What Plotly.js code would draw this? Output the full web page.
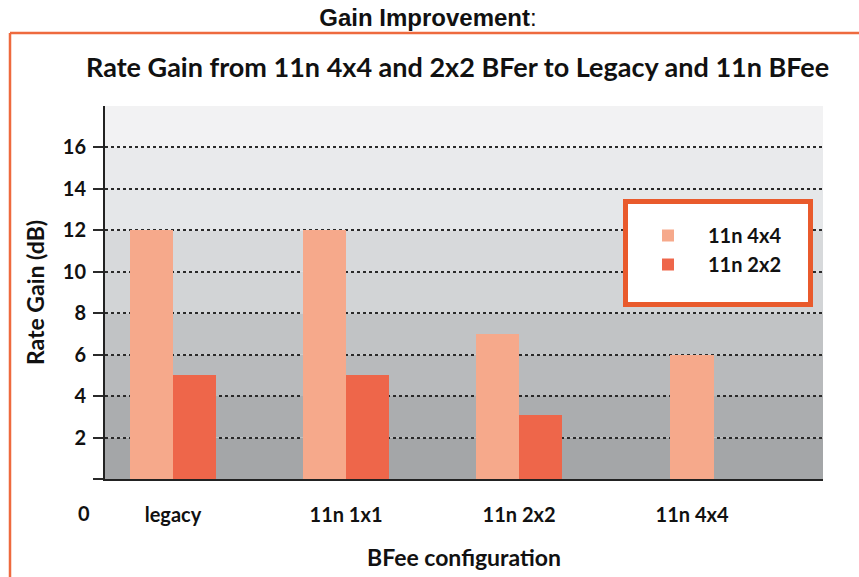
<!DOCTYPE html>
<html>
<head>
<meta charset="utf-8">
<script src="https://cdn.plot.ly/plotly-3.0.1.min.js"></script>
<style>
  html, body { margin: 0; padding: 0; background: #ffffff; }
  #chart { width: 859px; height: 577px; }
</style>
</head>
<body>
<div id="chart"></div>
<script>
// ---- data ----
const categories = ["legacy", "11n 1x1", "11n 2x2", "11n 4x4"];
const series4x4 = [12, 12, 7, 6];
const series2x2 = [5, 5, 3.1, null];
const seriesNames = ["11n 4x4", "11n 2x2"];
const yTickVals = [0, 2, 4, 6, 8, 10, 12, 14, 16];
const yTickText = ["", "2", "4", "6", "8", "10", "12", "14", "16"];
const bandEdges = [0, 2, 4, 6, 8, 10, 12, 14, 16, 18];
const bandColors = ["#a4a6a8", "#abadaf", "#b8babc", "#c1c3c5", "#d2d4d6", "#d7d9db", "#e5e7e9", "#e9eaec", "#f2f2f3"];

// ---- layout geometry (pixels) ----
const W = 859, H = 577;
const L = 105, R = 823, T = 106, B = 479;
const pw = R - L, ph = B - T;
const px = x => (x - L) / pw;
const py = y => (B - y) / ph;

const font = "Lato, 'Open Sans', sans-serif";
const light = "#f6a98b";
const dark = "#ee664a";
const frame = "#ee6a3e";

const barW = 0.25;
const trace1 = {
  type: "bar", name: seriesNames[0], x: categories, y: series4x4,
  width: barW,
  offset: categories.map((c, i) => series2x2[i] == null ? -barW / 2 : -barW),
  marker: { color: light }, legendgroup: "a"
};
const trace2 = {
  type: "bar", name: seriesNames[1], x: categories, y: series2x2,
  width: barW, offset: 0,
  marker: { color: dark }, legendgroup: "b"
};

const shapes = bandEdges.slice(0, -1).map((e, i) => ({
  type: "rect", xref: "paper", yref: "y", x0: 0, x1: 1, y0: e, y1: bandEdges[i + 1],
  fillcolor: bandColors[i], line: { width: 0 }, layer: "below"
}));
// orange frame around chart
shapes.push({ type: "line", xref: "paper", yref: "paper", x0: px(10), x1: px(W + 5), y0: py(33), y1: py(33), line: { color: frame, width: 2.5 } });
shapes.push({ type: "line", xref: "paper", yref: "paper", x0: px(10), x1: px(10), y0: py(33), y1: py(H + 5), line: { color: frame, width: 2.5 } });
// legend box
shapes.push({ type: "rect", xref: "paper", yref: "paper", x0: px(625.5), x1: px(810.5), y0: py(201.5), y1: py(304.5),
  fillcolor: "#ffffff", line: { color: "#e95a2c", width: 5 }, layer: "above" });

const layout = {
  width: W, height: H,
  margin: { l: L, r: W - R, t: T, b: H - B, pad: 0 },
  paper_bgcolor: "#ffffff",
  plot_bgcolor: "rgba(0,0,0,0)",
  title: {
    text: "<b>Gain Improvement</b>:",
    font: { family: "'Liberation Sans', Arial, sans-serif", size: 24, color: "#111" },
    x: 428 / W, xanchor: "center", xref: "container",
    y: 1 - 18 / H, yref: "container", yanchor: "middle"
  },
  barmode: "overlay",
  bargap: 0,
  xaxis: {
    type: "category",
    range: [-0.393, 3.757],
    showline: true, linecolor: "#222", linewidth: 2,
    showgrid: false, ticks: "",
    ticklabelstandoff: 17,
    tickfont: { family: font, size: 20, color: "#111", weight: 700 },
    title: { text: "<b>BFee configuration</b>", font: { family: font, size: 23, color: "#111" }, standoff: 25 },
    fixedrange: true
  },
  yaxis: {
    range: [0, 18],
    tickvals: yTickVals, ticktext: yTickText,
    showline: true, linecolor: "#222", linewidth: 2,
    showgrid: true, gridcolor: "#2a2a2a", gridwidth: 2, griddash: "3px,3px",
    zeroline: false,
    ticks: "outside", ticklen: 10, tickwidth: 2, tickcolor: "#2a2a2a",
    ticklabelstandoff: 3,
    tickfont: { family: font, size: 20, color: "#111", weight: 700 },
    title: { text: "<b>Rate Gain (dB)</b>", font: { family: font, size: 23, color: "#111" }, standoff: 12 },
    fixedrange: true
  },
  legend: {
    x: px(628), y: py(216), xanchor: "left", yanchor: "top",
    bgcolor: "rgba(0,0,0,0)", borderwidth: 0,
    font: { family: font, size: 20, color: "#111", weight: 700 },
    itemwidth: 70,
    tracegroupgap: 12,
    traceorder: "normal"
  },
  shapes: shapes,
  annotations: [
    {
      text: "<b>Rate Gain from 11n 4x4 and 2x2 BFer to Legacy and 11n BFee</b>",
      xref: "paper", yref: "paper", x: px(457), y: py(67),
      xanchor: "center", yanchor: "middle", showarrow: false,
      font: { family: font, size: 27, color: "#111" }
    },
    {
      text: "<b>0</b>", xref: "paper", yref: "paper", x: px(84), y: py(513),
      xanchor: "center", yanchor: "middle", showarrow: false,
      font: { family: font, size: 20, color: "#111" }
    }
  ],
  showlegend: true
};

Plotly.newPlot("chart", [trace1, trace2], layout, { displayModeBar: false, staticPlot: true });
</script>
</body>
</html>
